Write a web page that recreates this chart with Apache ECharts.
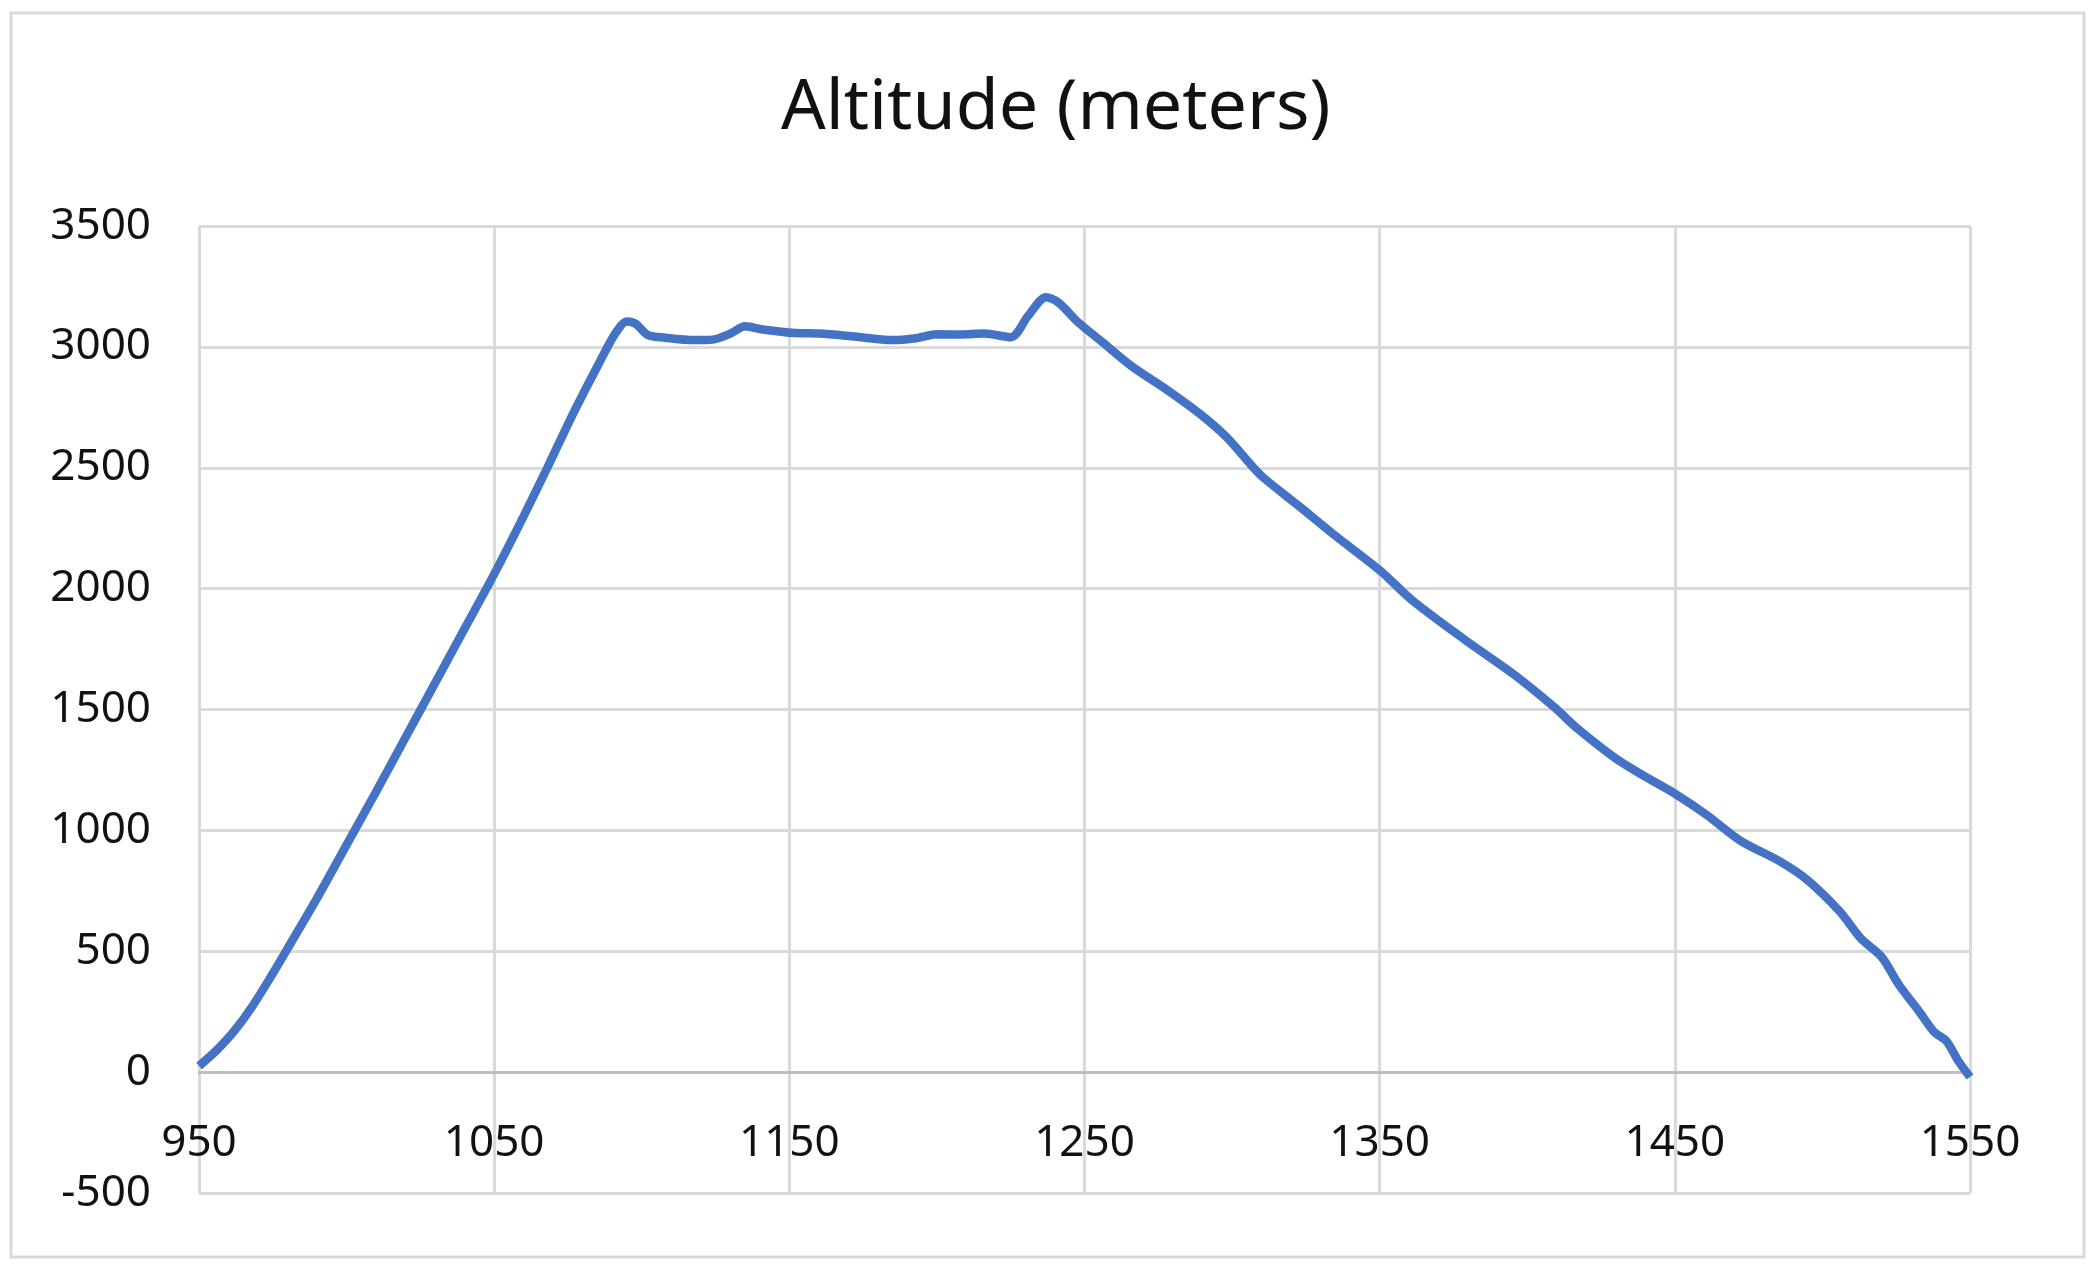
<!DOCTYPE html>
<html>
<head>
<meta charset="utf-8">
<script src="https://cdn.jsdelivr.net/npm/echarts@6/dist/echarts.min.js"></script>
<style>
  html, body { margin: 0; padding: 0; background: #fff; }
  #altitude_con { width: 2097px; height: 1268px; }
</style>
</head>
<body>
<div id="altitude_con"></div>
<script>
  // distance (x) and altitude in meters (y)
  const distList = [950, 956, 962, 968, 975, 981, 990, 1000, 1010, 1020, 1030, 1040, 1050, 1060, 1068, 1077, 1085, 1091, 1095, 1098,
    1102, 1108, 1118, 1124, 1130, 1135, 1141, 1152, 1160, 1171, 1185, 1193, 1200, 1208, 1216, 1225, 1231, 1237, 1241, 1248,
    1256, 1266, 1278, 1289, 1298, 1307, 1311, 1323, 1334, 1350, 1361, 1379, 1395, 1409, 1417, 1430, 1440, 1450, 1461, 1472,
    1486, 1495, 1506, 1513, 1520, 1526, 1533, 1538, 1542, 1546, 1550];
  const altList = [25, 91, 171, 271, 408, 532, 720, 940, 1160, 1385, 1610, 1835, 2060, 2300, 2500, 2730, 2920, 3055, 3105, 3095,
    3050, 3038, 3028, 3030, 3055, 3085, 3072, 3057, 3055, 3044, 3028, 3036, 3052, 3051, 3055, 3040, 3130, 3205, 3185, 3100,
    3020, 2920, 2822, 2724, 2628, 2504, 2455, 2338, 2228, 2076, 1952, 1787, 1649, 1511, 1421, 1297, 1222, 1152, 1062, 959,
    869, 794, 663, 553, 477, 360, 247, 164, 129, 47, -20];
  const yTicks = [-500, 0, 500, 1000, 1500, 2000, 2500, 3000, 3500];
  const titleText = 'Altitude (meters)';

  let chart = echarts.init(document.getElementById('altitude_con'));

  const points = distList.map(function (d, i) { return [d, altList[i]]; });

  const option = {
    animation: false,
    textStyle: { fontFamily: 'Noto Sans' },
    title: {
      text: titleText,
      left: 776,
      top: 69,
      textStyle: { fontSize: 70, fontWeight: 'normal', color: '#111', fontFamily: 'Noto Sans' }
    },
    graphic: [{
      type: 'rect',
      shape: { x: 11, y: 13, width: 2073, height: 1244 },
      style: { fill: 'none', stroke: '#d9d9d9', lineWidth: 3 },
      silent: true
    }],
    grid: {
      left: 199,
      right: 127,
      top: 226,
      bottom: 75,
      containLabel: false
    },
    xAxis: {
      type: 'value',
      min: 950,
      max: 1550,
      interval: 100,
      axisLine: { show: true, onZero: true, lineStyle: { color: '#bfbfbf', width: 3 } },
      axisTick: { show: false },
      axisLabel: {
        fontSize: 44, color: '#111', margin: -72,
        formatter: function (v) { return String(v); }
      },
      splitLine: { show: true, lineStyle: { color: '#d9d9d9', width: 3 } }
    },
    yAxis: {
      type: 'value',
      min: yTicks[0],
      max: yTicks[yTicks.length - 1],
      interval: 500,
      axisLine: { show: false },
      axisTick: { show: false },
      axisLabel: {
        fontSize: 44, color: '#111', margin: 48,
        formatter: function (v) { return String(v); }
      },
      splitLine: { show: true, lineStyle: { color: '#d9d9d9', width: 3 } }
    },
    series: [{
      name: titleText,
      type: 'line',
      data: points,
      smooth: 0.3,
      showSymbol: false,
      lineStyle: { color: '#4472c4', width: 8.5 }
    }]
  };

  chart.setOption(option);

  window.addEventListener('resize', function () {
    chart.resize();
  });
</script>
</body>
</html>
